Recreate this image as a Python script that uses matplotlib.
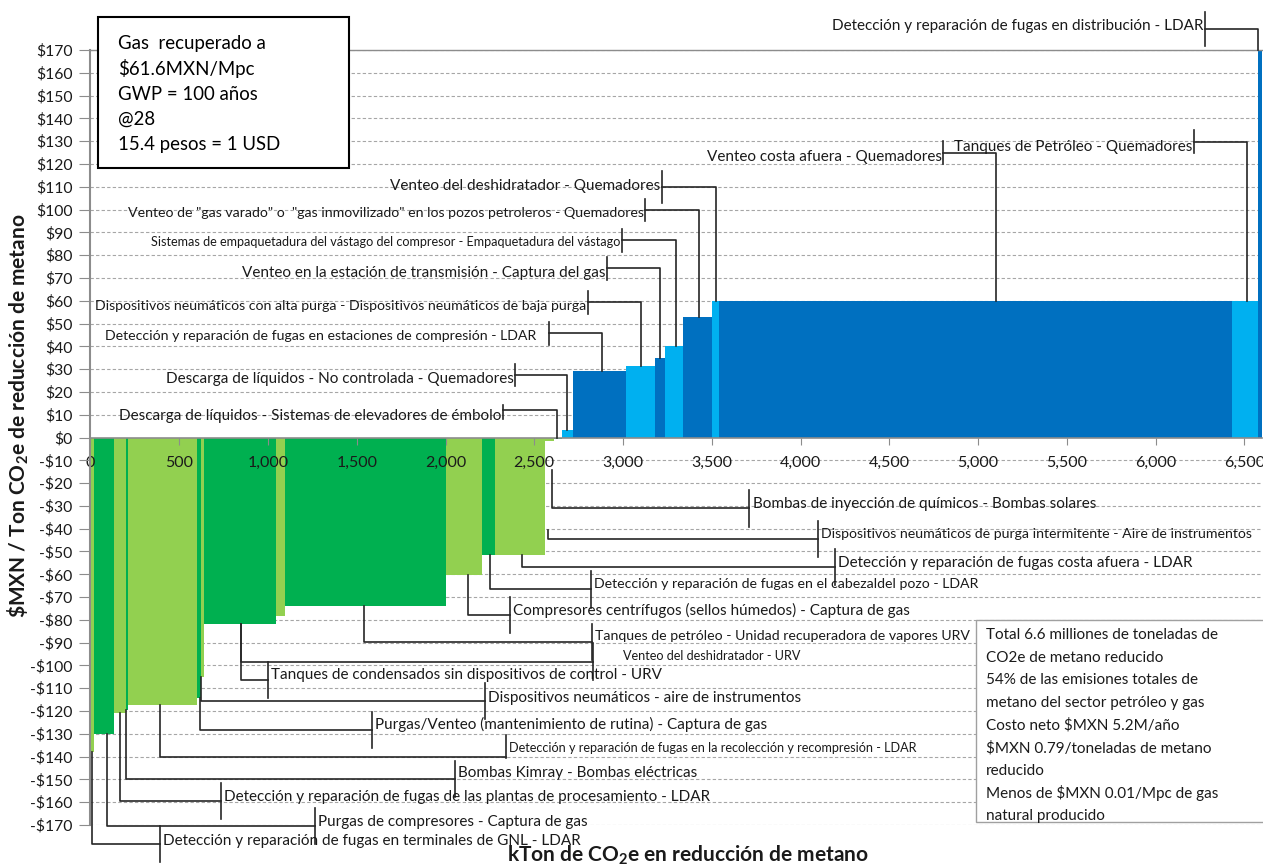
# -*- coding: utf-8 -*-
"""Curva de costo marginal de abatimiento de metano (sector petróleo y gas)."""
import numpy as np
import matplotlib.pyplot as plt
from matplotlib.patches import Rectangle

plt.rcParams['font.family'] = ['Lato', 'DejaVu Sans']
plt.rcParams['mathtext.fontset'] = 'custom'
plt.rcParams['mathtext.rm'] = 'Lato'
plt.rcParams['mathtext.bf'] = 'Lato:bold'

# --- data -------------------------------------------------------------------
# reduction per measure (kTon CO2e) and cost ($MXN / ton CO2e), MACC order
reduction = [20, 115, 63, 13, 389, 20, 22, 401, 50, 910, 202, 75, 282, 48, 45,
             65, 297, 163, 57, 103, 163, 40, 2890, 142, 25]
cost = [-137.8, -130.0, -121.0, -119.5, -117.3, -114.3, -104.9, -81.8, -78.2,
        -73.8, -60.3, -51.5, -51.5, -1.5, -0.8,
        3.3, 29.2, 31.5, 35.0, 40.1, 52.7, 60.0, 60.0, 60.0, 185.0]
shade = ['l', 'd', 'l', 'd', 'l', 'd', 'l', 'd', 'l', 'd', 'l', 'd', 'l', 'l',
         'd', 'l', 'd', 'l', 'd', 'l', 'd', 'l', 'd', 'l', 'd']

labels = [
    "Detección y reparación de fugas en terminales de GNL - LDAR",
    "Purgas de compresores - Captura de gas",
    "Detección y reparación de fugas de las plantas de procesamiento - LDAR",
    "Bombas Kimray - Bombas eléctricas",
    "Detección y reparación de fugas en la recolección y recompresión - LDAR",
    "Purgas/Venteo (mantenimiento de rutina) - Captura de gas",
    "Dispositivos neumáticos - aire de instrumentos",
    "Tanques de condensados sin dispositivos de control - URV",
    "Venteo del deshidratador - URV",
    "Tanques de petróleo - Unidad recuperadora de vapores URV",
    "Compresores centrífugos (sellos húmedos) - Captura de gas",
    "Detección y reparación de fugas en el cabezaldel pozo - LDAR",
    "Detección y reparación de fugas costa afuera - LDAR",
    "Dispositivos neumáticos de purga intermitente - Aire de instrumentos",
    "Bombas de inyección de químicos - Bombas solares",
    "Descarga de líquidos - Sistemas de elevadores de émbolo",
    "Descarga de líquidos - No controlada - Quemadores",
    "Detección y reparación de fugas en estaciones de compresión - LDAR",
    "Dispositivos neumáticos con alta purga - Dispositivos neumáticos de baja purga",
    "Venteo en la estación de transmisión - Captura del gas",
    "Sistemas de empaquetadura del vástago del compresor - Empaquetadura del vástago",
    'Venteo de "gas varado" o  "gas inmovilizado" en los pozos petroleros - Quemadores',
    "Venteo del deshidratador - Quemadores",
    "Venteo costa afuera - Quemadores",
    "Tanques de Petróleo - Quemadores",
    "Detección y reparación de fugas en distribución - LDAR",
]

note_left = ["Gas  recuperado a", r"\$61.6MXN/Mpc", "GWP = 100 años", "@28",
             "15.4 pesos = 1 USD"]
note_right = ["Total 6.6 milliones de toneladas de", "CO2e de metano reducido",
              "54% de las emisiones totales de",
              "metano del sector petróleo y gas",
              r"Costo neto \$MXN 5.2M/año", r"\$MXN 0.79/toneladas de metano",
              "reducido", r"Menos de \$MXN 0.01/Mpc de gas",
              "natural producido"]

# --- callout layout (which bar, where the elbow / tick / text sit) ----------
call_bar = [0, 1, 2, 3, 4, 5, 6, 7, 7, 9, 10, 11, 12, 13, 13,
            14, 15, 16, 17, 18, 19, 20, 21, 22, 23, 24]
call_frac = [0.5, 0.63, 0.49, 0.15, 0.47, 0.85, 0.1, 0.52, 0.52, 0.49, 0.6,
             0.61, 0.54, 0.35, 0.79, 0.38, 0.48, 0.54, 0.51, 0.49, 0.58, 0.54,
             0.48, 0.54, 0.57, 0.16]
call_start = {13: -40.6, 14: -14.3, 15: 0.0}
call_elbow = [-178.3, -170.5, -159.4, -149.8, -140.0, -128.3, -115.6, -106.4,
              -98.3, -89.6, -77.9, -66.6, -56.9, -44.6, -31.1,
              12.1, 27.4, 45.7, 59.3, 74.2, 86.6, 99.8, 110.0, 124.9, 129.7,
              179.2]
call_tick = [392, 1265, 733, 2054, 2341, 1584, 2222, 998, 2833, 2824, 2363,
             2820, 4194, 4100, 3712, 2324, 2392, 2583, 2803, 2910, 2993, 3124,
             3218, 4805, 6217, 6279]
call_text_y = [-177.0, -168.6, -157.7, -147.1, -136.2, -126.1, -114.3, -104.2,
               -95.8, -87.1, -75.7, -64.3, -54.9, -42.3, -29.2,
               9.4, 25.7, 44.6, 57.8, 72.0, 85.9, 98.3, 110.3, 123.1, 127.5,
               180.5]
call_text_x = {8: 3000, 17: 2510}
call_span = {4: (-0.6, 9.5), 15: (-4.2, 2.3), 22: (-7, 7), 25: (-7.5, 7.5)}
call_size = ['L', 'L', 'L', 'L', 'S', 'L', 'L', 'L', 'S', 'M', 'L', 'M', 'L',
             'M', 'L', 'L', 'L', 'M', 'M', 'L', 'S', 'M', 'L', 'L', 'L', 'L']
font_size = {'L': 11.0, 'M': 10.2, 'S': 9.1}

colors = {('neg', 'd'): '#00B050', ('neg', 'l'): '#92D050',
          ('pos', 'd'): '#0070C0', ('pos', 'l'): '#00B0F0'}
lead_color = '#262626'
axis_gray = '#8c8c8c'

W, H = 1263, 865
fig = plt.figure(figsize=(W / 100, H / 100), dpi=100)
ax = fig.add_axes([90.5 / W, 1 - 825 / H, 1171.5 / W, 775 / H])

lefts = np.concatenate([[0], np.cumsum(reduction)[:-1]])
bar_colors = [colors[('neg' if c < 0 else 'pos', s)] for c, s in zip(cost, shade)]
ax.bar(lefts, cost, width=reduction, align='edge', color=bar_colors,
       linewidth=0, zorder=1)

ax.set_xlim(0, 6600)
ax.set_ylim(-170, 170)

yt = np.arange(-170, 171, 10)
ax.hlines([v for v in yt if v != 0], 0, 6600, colors='#a6a6a6',
          linestyles=(0, (3, 2)), linewidth=0.8, zorder=0.5)
ax.set_yticks(yt)
ax.set_yticklabels([('-' if v < 0 else '') + r'\$' + str(abs(v)) for v in yt])
xt = np.arange(0, 6501, 500)
ax.set_xticks(xt)
ax.set_xticklabels([f"{v:,}" for v in xt])

ax.spines['right'].set_visible(False)
ax.spines['bottom'].set_position(('data', 0))
for side, lw in (('left', 1.5), ('bottom', 1.2), ('top', 1.0)):
    ax.spines[side].set_color(axis_gray)
    ax.spines[side].set_linewidth(lw)
ax.tick_params(axis='x', direction='out', length=5, color=axis_gray, pad=8,
               labelsize=11.5, labelcolor='#1a1a1a')
ax.tick_params(axis='y', direction='out', length=8, color=axis_gray, pad=5,
               labelsize=11.3, labelcolor='#1a1a1a')

# callouts with elbow leader lines
for i, text in enumerate(labels):
    b = call_bar[i]
    x0 = lefts[b] + call_frac[i] * reduction[b]
    y0 = call_start.get(i, float(np.clip(cost[b], -170, 170)))
    ey = call_elbow[i]
    tx = call_tick[i]
    pos = ey > 0
    lo, hi = call_span.get(i, (-5, 5) if pos else (-8, 8))
    ax.plot([x0, x0, tx], [y0, ey, ey], color=lead_color, lw=1.2,
            clip_on=False, zorder=3)
    ax.plot([tx, tx], [ey + lo, ey + hi], color=lead_color, lw=1.2,
            clip_on=False, zorder=3)
    if pos:
        ha, xpos = 'right', tx - 8
    else:
        ha, xpos = 'left', tx + 18
    xpos = call_text_x.get(i, xpos)
    ax.text(xpos, call_text_y[i], text, ha=ha, va='center',
            fontsize=font_size[call_size[i]], color='#1a1a1a', clip_on=False,
            zorder=4)

# axis titles
fig.text(18 / W, 1 - 416 / H,
         r"\$MXN / Ton CO$_\mathbf{2}$e de reducción de metano",
         rotation=90, ha='center', va='center', fontsize=15, weight='bold',
         color='#1a1a1a')
fig.text(688 / W, 1 - 855 / H, r"kTon de CO$_\mathbf{2}$e en reducción de metano",
         ha='center', va='center', fontsize=15, weight='bold', color='#1a1a1a')

# assumption box (top left)
fig.add_artist(Rectangle((98 / W, 1 - 168 / H), 251 / W, 151 / H,
                         transform=fig.transFigure, facecolor='white',
                         edgecolor='black', linewidth=1.5, zorder=5))
for k, line in enumerate(note_left):
    fig.text(118 / W, 1 - (43.5 + 25.3 * k) / H, line, ha='left',
             va='center', fontsize=13.4, color='black', zorder=6)

# summary box (bottom right)
fig.add_artist(Rectangle((976 / W, 1 - 822 / H), 300 / W, 202 / H,
                         transform=fig.transFigure, facecolor='white',
                         edgecolor='#a0a0a0', linewidth=1.0, zorder=5))
for k, line in enumerate(note_right):
    fig.text(986 / W, 1 - (635 + 22.6 * k) / H, line, ha='left',
             va='center', fontsize=11.0, color='#1a1a1a', zorder=6)

fig.savefig('out.png', dpi=100)
